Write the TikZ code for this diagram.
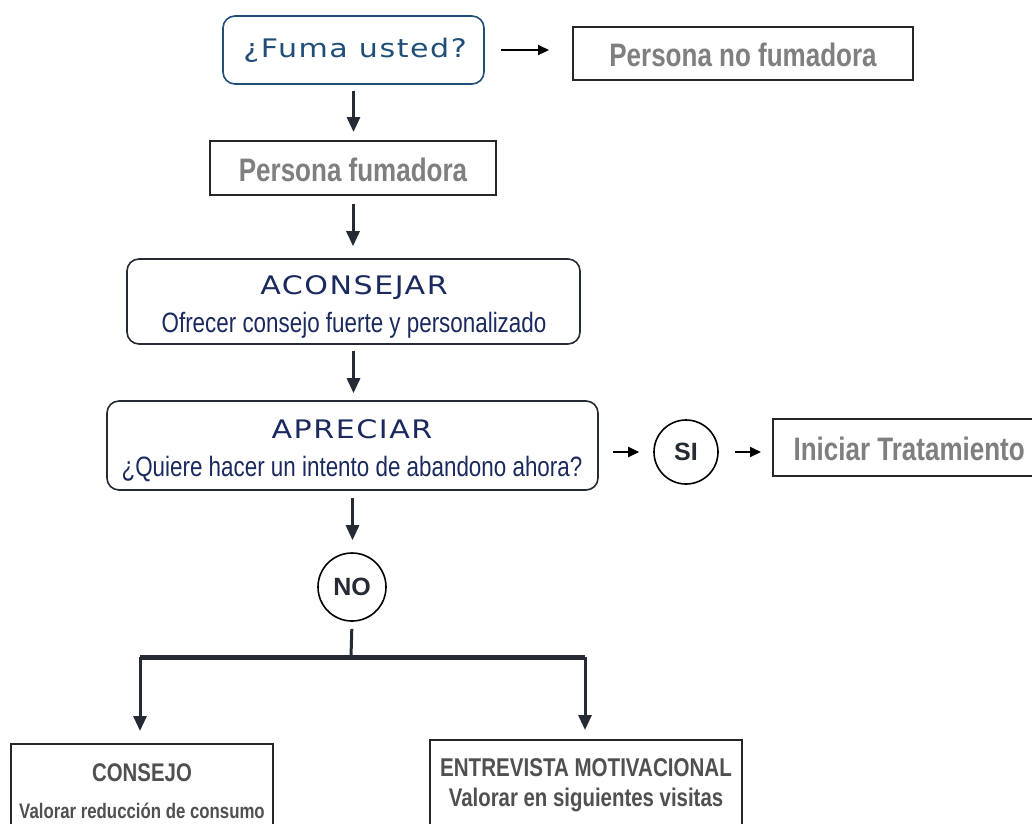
\documentclass[tikz,border=0pt]{standalone}
\usepackage{fontspec}
\setmainfont{Liberation Sans}
\newfontfamily\wideF[FakeStretch=1.18,LetterSpace=6]{DejaVu Sans}
\newfontfamily\narrowF[FakeStretch=0.8]{Liberation Sans}
\usetikzlibrary{arrows.meta}
\definecolor{fblue}{HTML}{1F4E79}
\definecolor{navy}{HTML}{1B2A5E}
\definecolor{tgray}{HTML}{7F7F7F}
\definecolor{dgray}{HTML}{505050}
\definecolor{aline}{HTML}{262A35}
\tikzset{
  rbox/.style={draw=aline, line width=1.6pt, rounded corners=12pt, inner sep=0pt, fill=white},
  sbox/.style={draw=black!85, line width=2pt, inner sep=0pt, fill=white},
  circ/.style={circle, draw=black, line width=1.6pt, inner sep=0pt, minimum size=62pt,
    font=\bfseries\fontsize{25}{28}\selectfont, text=aline},
  harr/.style={draw=black, line width=2pt, -{Triangle[length=11pt,width=10pt]}},
  darr/.style={draw=aline, line width=3pt, -{Triangle[length=15pt,width=13pt]}},
  dline/.style={draw=aline, line width=3pt},
  hline/.style={draw=aline, line width=5pt},
  graytxt/.style={text=tgray, font=\narrowF\bfseries\fontsize{32.5}{36}\selectfont},
  headtxt/.style={text=navy, font=\wideF\fontsize{25.5}{28}\selectfont},
  subtxt/.style={text=navy, font=\narrowF\fontsize{28}{32}\selectfont},
  bottxt/.style={text=dgray, anchor=base, inner sep=0pt},
}
\begin{document}
\begin{tikzpicture}[x=1pt,y=-1pt]
\clip (0,0) rectangle (1032,823);
\fill[white] (0,0) rectangle (1032,823);
% boxes
\node[rbox, draw=fblue, minimum width=261pt, minimum height=68pt] (fuma) at (353.5,50) {};
\node[text=fblue, font=\wideF\fontsize{25.5}{28}\selectfont] (fumaT) at (355,50) {¿Fuma usted?};
\node[sbox, minimum width=340pt, minimum height=53pt] (nofum) at (743,53.5) {};
\node[graytxt] (nofumT) at (743,55) {Persona no fumadora};
\node[sbox, minimum width=286pt, minimum height=54pt] (fum) at (353,168) {};
\node[graytxt] (fumT) at (353,170) {Persona fumadora};
\node[rbox, minimum width=453pt, minimum height=85pt] (acon) at (353.5,301.5) {};
\node[headtxt] (aconT) at (354,288) {ACONSEJAR};
\node[subtxt] (aconS) at (354,325) {Ofrecer consejo fuerte y personalizado};
\node[rbox, minimum width=491pt, minimum height=89pt] (apre) at (352.5,445.5) {};
\node[headtxt] (apreT) at (352,429) {APRECIAR};
\node[subtxt] (apreS) at (352,469) {¿Quiere hacer un intento de abandono ahora?};
\node[circ, minimum size=64pt] (si) at (686,452) {SI};
\node[sbox, minimum width=294pt, minimum height=57pt] (ini) at (920,447.5) {};
\node[graytxt, anchor=west] (iniT) at (790,449) {Iniciar Tratamiento};
\node[circ, minimum size=68pt] (no) at (352,587) {NO};
\node[sbox, minimum width=262pt, minimum height=110pt] (consejo) at (142,799) {};
\node[bottxt, font=\narrowF\bfseries\fontsize{25.5}{28}\selectfont] (consejoT) at (142,781) {CONSEJO};
\node[bottxt, font=\narrowF\bfseries\fontsize{21}{24}\selectfont] (consejoS) at (142,818) {Valorar reducción de consumo};
\node[sbox, minimum width=312pt, minimum height=110pt] (entre) at (586,795) {};
\node[bottxt, font=\narrowF\bfseries\fontsize{25.7}{28}\selectfont] (entreT) at (586,776) {ENTREVISTA MOTIVACIONAL};
\node[bottxt, font=\narrowF\bfseries\fontsize{25.5}{28}\selectfont] (entreS) at (586,806) {Valorar en siguientes visitas};
\coordinate (split) at (351,657);
% connectors
\draw[harr, shorten <=16pt, shorten >=23pt] (fuma.east) -- (fuma.east -| nofum.west);
\draw[darr, shorten <=6pt, shorten >=8pt] (fuma.south) -- (fuma.south |- fum.north);
\draw[darr, shorten <=8pt, shorten >=12pt] (fum.south) -- (fum.south |- acon.north);
\draw[darr, shorten <=6pt, shorten >=7pt] (acon.south) -- (acon.south |- apre.north);
\draw[harr, shorten <=14pt, shorten >=14pt] (apre.east |- si) -- (si.west);
\draw[harr, shorten <=16pt, shorten >=11pt] (si.east) -- (si.east -| ini.west);
\draw[darr, shorten <=7pt, shorten >=12pt] (apre.south) -- (apre.south |- no.north);
\draw[dline, shorten <=7pt] (no.south) -- (split);
\draw[hline] ([xshift=-2pt]split -| consejo) -- ([xshift=-1pt]split -| entre);
\draw[darr, shorten >=12pt] ([xshift=-2pt]split -| consejo) -- ([xshift=-2pt]consejo.north);
\draw[darr, shorten >=9pt] ([xshift=-1pt]split -| entre) -- ([xshift=-1pt]entre.north);
\end{tikzpicture}
\end{document}
